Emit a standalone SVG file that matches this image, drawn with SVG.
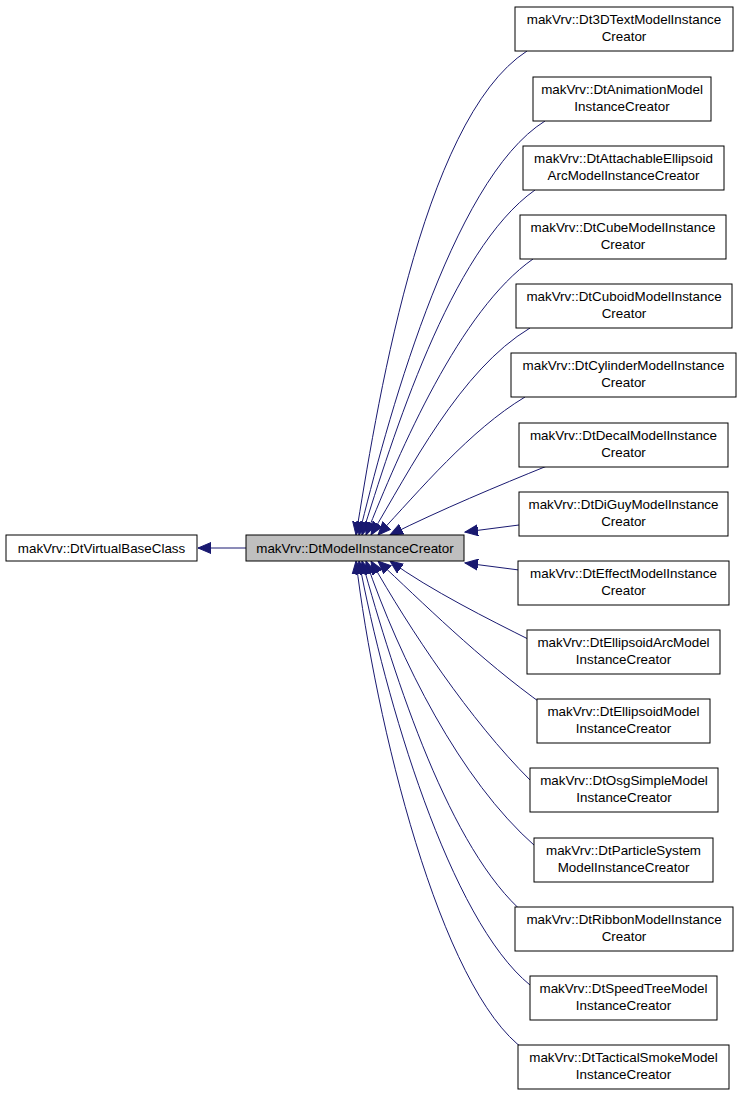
<svg xmlns="http://www.w3.org/2000/svg" width="741" height="1096" viewBox="0 0 741 1096">
<style>
rect{fill:#fff;stroke:#000;stroke-width:1}
text{font-family:"Liberation Sans",Arial,sans-serif;font-size:13.4px;text-anchor:middle;fill:#000}
.e{fill:none;stroke:#191970;stroke-width:1;marker-end:url(#a)}
</style>
<defs><marker id="a" markerWidth="14" markerHeight="12" refX="13" refY="6" orient="auto" markerUnits="userSpaceOnUse"><path d="M0,0.5 L13,6 L0,11.5 Z" fill="#191970" stroke="#191970"/></marker></defs>
<rect width="741" height="1096" style="fill:#fff;stroke:none"/>
<g id="edges">
<path class="e" d="M246,548 L198,548"/>
<path class="e" d="M527,51 C420,120 375,420 356,535"/>
<path class="e" d="M545,121 C450,180 385,430 359,535"/>
<path class="e" d="M535,190 C450,250 392,440 362,535"/>
<path class="e" d="M533,259 C460,310 400,450 366,535"/>
<path class="e" d="M530,328 C460,370 410,470 371,535"/>
<path class="e" d="M525,397 C470,430 420,490 378,535"/>
<path class="e" d="M547,466 C500,485 440,510 390,535"/>
<path class="e" d="M519,525 L465,532"/>
<path class="e" d="M519,570 L465,563"/>
<path class="e" d="M530,640 C490,620 430,590 390,561"/>
<path class="e" d="M545,706 C480,660 420,600 378,561"/>
<path class="e" d="M530,780 C470,720 410,630 371,561"/>
<path class="e" d="M535,846 C460,780 400,660 366,561"/>
<path class="e" d="M525,914 C450,850 395,680 362,561"/>
<path class="e" d="M530,985 C450,920 385,700 359,561"/>
<path class="e" d="M525,1050 C440,990 375,720 356,561"/>
</g>
<g id="base"><rect x="6" y="535" width="191" height="26"/><text x="101.5" y="552.5">makVrv::DtVirtualBaseClass</text></g>
<g id="center"><rect x="246" y="535" width="218" height="26" style="fill:#bfbfbf"/><text x="355" y="552.5">makVrv::DtModelInstanceCreator</text></g>
<g id="n1"><rect x="515" y="7" width="218" height="44"/><text x="624" y="24">makVrv::Dt3DTextModelInstance</text><text x="624" y="41">Creator</text></g>
<g id="n2"><rect x="533" y="77" width="178" height="44"/><text x="622" y="94">makVrv::DtAnimationModel</text><text x="622" y="111">InstanceCreator</text></g>
<g id="n3"><rect x="523" y="146" width="201" height="44"/><text x="623.5" y="163">makVrv::DtAttachableEllipsoid</text><text x="623.5" y="180">ArcModelInstanceCreator</text></g>
<g id="n4"><rect x="520" y="215" width="206" height="44"/><text x="623" y="232">makVrv::DtCubeModelInstance</text><text x="623" y="249">Creator</text></g>
<g id="n5"><rect x="516" y="284" width="216" height="44"/><text x="624" y="301">makVrv::DtCuboidModelInstance</text><text x="624" y="318">Creator</text></g>
<g id="n6"><rect x="511" y="353" width="225" height="44"/><text x="623.5" y="370">makVrv::DtCylinderModelInstance</text><text x="623.5" y="387">Creator</text></g>
<g id="n7"><rect x="519" y="423" width="209" height="44"/><text x="623.5" y="440">makVrv::DtDecalModelInstance</text><text x="623.5" y="457">Creator</text></g>
<g id="n8"><rect x="519" y="492" width="209" height="44"/><text x="623.5" y="509">makVrv::DtDiGuyModelInstance</text><text x="623.5" y="526">Creator</text></g>
<g id="n9"><rect x="518" y="561" width="211" height="44"/><text x="623.5" y="578">makVrv::DtEffectModelInstance</text><text x="623.5" y="595">Creator</text></g>
<g id="n10"><rect x="527" y="630" width="193" height="44"/><text x="623.5" y="647">makVrv::DtEllipsoidArcModel</text><text x="623.5" y="664">InstanceCreator</text></g>
<g id="n11"><rect x="537" y="699" width="173" height="44"/><text x="623.5" y="716">makVrv::DtEllipsoidModel</text><text x="623.5" y="733">InstanceCreator</text></g>
<g id="n12"><rect x="530" y="768" width="188" height="44"/><text x="624" y="785">makVrv::DtOsgSimpleModel</text><text x="624" y="802">InstanceCreator</text></g>
<g id="n13"><rect x="534" y="838" width="179" height="44"/><text x="623.5" y="855">makVrv::DtParticleSystem</text><text x="623.5" y="872">ModelInstanceCreator</text></g>
<g id="n14"><rect x="515" y="907" width="218" height="44"/><text x="624" y="924">makVrv::DtRibbonModelInstance</text><text x="624" y="941">Creator</text></g>
<g id="n15"><rect x="530" y="976" width="187" height="44"/><text x="623.5" y="993">makVrv::DtSpeedTreeModel</text><text x="623.5" y="1010">InstanceCreator</text></g>
<g id="n16"><rect x="518" y="1045" width="211" height="44"/><text x="623.5" y="1062">makVrv::DtTacticalSmokeModel</text><text x="623.5" y="1079">InstanceCreator</text></g>
</svg>
